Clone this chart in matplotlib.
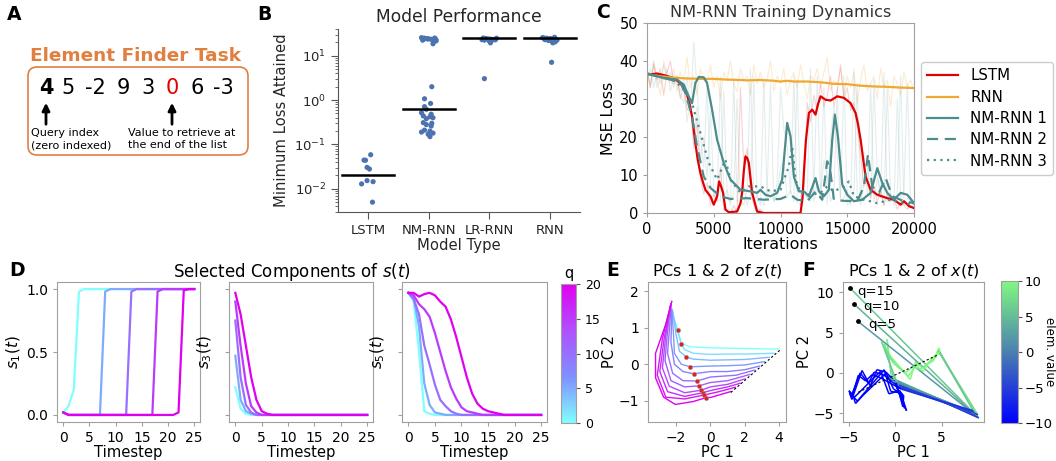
import numpy as np
import matplotlib
matplotlib.use("Agg")
import matplotlib.pyplot as plt
from matplotlib.patches import FancyBboxPatch
from matplotlib.colors import LinearSegmentedColormap, Normalize
from matplotlib.collections import LineCollection
from matplotlib.cm import ScalarMappable
from matplotlib.ticker import LogLocator, NullFormatter

plt.rcParams['font.family'] = ['DejaVu Sans']
plt.rcParams['mathtext.fontset'] = 'dejavusans'

# ---------------- DATA ----------------
# Panel A
task_title = "Element Finder Task"
seq_tokens = ["4", "5", "-2", "9", "3", "0", "6", "-3"]
query_token = 0
target_token = 5
query_note = "Query index\n(zero indexed)"
target_note = "Value to retrieve at\nthe end of the list"

# Panel B
models = ["LSTM", "NM-RNN", "LR-RNN", "RNN"]
lstm_min = [0.0586, 0.0444, 0.044, 0.0304, 0.0279, 0.0153, 0.0145, 0.0129, 0.005]
lstm_jit = [0.04, -0.07, -0.045, -0.02, 0.02, -0.02, 0.08, -0.11, 0.07]
nm_min = [25.5, 24.8, 24.2, 23.9, 23.5, 23.1, 22.8, 22.4, 25.0, 24.0, 23.2, 22.0, 21.5, 18.6, 24.6,
          2.0, 1.07, 0.84, 0.71, 0.62, 0.52, 0.48, 0.44, 0.42, 0.38, 0.40, 0.31, 0.28, 0.26,
          0.21, 0.20, 0.19, 0.18, 0.17, 0.15, 0.30]
nm_jit = [-0.12, -0.08, -0.04, 0.0, 0.04, 0.08, 0.12, -0.1, 0.1, -0.02, 0.06, 0.1, 0.12, 0.07, -0.06,
          0.05, -0.07, 0.03, -0.07, -0.04, -0.12, 0.04, -0.09, 0.02, -0.04, 0.07, -0.09, -0.04, 0.04,
          -0.07, 0.02, -0.12, 0.07, -0.01, 0.02, 0.05]
lr_min = [25.0, 24.5, 24.0, 23.6, 23.2, 22.8, 22.4, 22.0, 21.5, 24.8, 23.0, 19.5, 3.04]
lr_jit = [-0.1, -0.06, -0.02, 0.02, 0.06, 0.1, -0.08, 0.04, 0.0, 0.12, -0.12, 0.02, -0.08]
rnn_min = [26.0, 25.2, 24.8, 24.3, 23.9, 23.5, 23.0, 22.5, 22.0, 21.2, 20.5, 25.5, 24.0, 19.5, 7.1]
rnn_jit = [0.08, -0.1, -0.05, 0.0, 0.05, 0.1, -0.08, 0.12, -0.02, 0.04, 0.09, -0.12, 0.02, 0.05, 0.03]
medians = [0.0209, 0.64, 24.5, 24.5]

# Panel C (smoothed curves)
lstm_it = [0, 750, 1250, 2000, 2500, 2800, 3000, 3200, 3375, 3625, 3800, 4000, 4200, 4375, 4750,
           5000, 5250, 5400, 5550, 5700, 5875, 6125, 6750, 7000, 7125, 7250, 7375, 7500, 7625,
           7875, 8250, 8750, 11500, 11650, 11750, 11900, 12125, 12375, 12625, 12800, 13000, 13375,
           13750, 14250, 14750, 15250, 15625, 15800, 16000, 16200, 16375, 16750, 17250, 18000,
           18500, 19000, 19250, 19625, 20000]
lstm_loss = [36.4, 36.7, 36.3, 35.5, 34.2, 32.8, 31.1, 28.5, 25.4, 18.4, 14.0, 10.5, 8.0, 6.1, 4.4,
             2.2, 4.4, 8.3, 7.0, 5.3, 0.9, 0.2, 0.4, 2.5, 5.3, 11.0, 14.9, 14.5, 13.2,
             5.3, 0.4, 0.0, 0.0, 4.0, 10.5, 19.0, 26.3, 27.2, 25.9, 28.5, 30.7, 29.8,
             29.6, 30.7, 30.3, 28.9, 26.3, 23.5, 19.3, 14.0, 9.6, 6.1, 4.8, 3.9,
             3.5, 2.2, 3.1, 1.8, 1.3]
rnn_it = [0, 1000, 2000, 3000, 4000, 5000, 6000, 7000, 7500, 8500, 9500, 10000, 10500, 11000,
          12000, 13000, 14000, 15000, 16000, 17000, 18000, 19000, 20000]
rnn_loss = [36.5, 36.0, 35.6, 35.4, 35.3, 35.3, 35.1, 35.0, 34.9, 35.0, 34.8, 34.6, 34.8, 34.6,
            34.6, 34.4, 34.0, 33.9, 33.5, 33.3, 33.2, 33.0, 32.9]
nm1_it = [0, 1250, 2250, 2750, 3125, 3375, 3625, 3875, 4250, 4500, 4875, 5250, 5750, 6250, 7000,
          7750, 8250, 8500, 8875, 9250, 9750, 10125, 10500, 10750, 11000, 11375, 11750, 12125,
          12625, 12875, 13250, 13625, 13875, 14075, 14300, 14625, 15000, 15500, 16125, 16750,
          17250, 17625, 18000, 18500, 19000, 19500, 20000]
nm1_loss = [36.7, 35.5, 35.1, 33.8, 30.7, 28.9, 34.2, 35.8, 35.7, 34.2, 27.2, 19.3, 13.2, 8.8, 6.1,
            5.7, 5.3, 6.1, 4.8, 4.4, 5.3, 8.8, 23.7, 20.2, 9.6, 5.7, 5.7, 4.4,
            9.2, 5.7, 4.4, 6.1, 19.3, 25.9, 20.2, 7.5, 4.8, 3.1, 3.5, 5.3,
            11.8, 7.9, 5.3, 3.5, 5.3, 4.8, 2.6]
nm2_it = [0, 1750, 2500, 2875, 3375, 3750, 4250, 4750, 5500, 6250, 7500, 8750, 10000, 10750, 11250,
          12000, 12625, 13125, 13500, 13750, 14000, 14750, 15750, 16250, 16550, 16875, 17375,
          17875, 18375, 19250, 20000]
nm2_loss = [36.7, 35.1, 34.2, 31.6, 25.4, 17.5, 9.6, 6.6, 4.4, 3.7, 3.9, 3.5, 3.7, 4.8, 3.5,
            3.1, 5.7, 3.5, 13.6, 10.5, 3.5, 3.2, 3.1, 7.0, 15.4, 7.0, 5.3,
            9.2, 4.4, 3.1, 2.6]
nm3_it = [0, 2000, 2750, 3375, 4000, 4625, 5250, 5875, 6250, 7000, 7625, 8500, 9250, 10000, 10625,
          10875, 11125, 11500, 12250, 13000, 13500, 14000, 14750, 15125, 15500, 16250, 17250,
          18250, 19250, 20000]
nm3_loss = [36.7, 35.1, 32.5, 28.9, 21.1, 13.2, 8.8, 14.0, 8.8, 5.3, 7.0, 7.0, 5.7, 6.1, 12.3,
            17.5, 8.8, 5.3, 4.8, 5.3, 7.0, 5.7, 7.0, 8.3, 4.4, 3.5, 2.6,
            3.5, 2.6, 2.2]
# Panel C (raw, every 250 iterations)
lstm_raw = [38, 33, 40, 35, 38, 31, 37, 40, 34, 36, 30, 34, 27, 29, 17, 24, 9, 5, 8, 2, 5, 3, 12, 1,
            0.5, 0, 2, 0, 33, 12, 17, 6, 2, 0, 1, 0,
            0, 0, 0, 0, 0, 0, 0, 0, 0, 0, 0,
            8, 29, 24, 31, 27, 34, 28, 31, 36, 28, 32, 39, 30, 33, 27, 29, 23, 15, 7, 9, 4, 7, 3, 6,
            2, 5, 3, 4, 1, 3, 2, 1, 2, 1]
rnn_raw = [37, 33, 39, 35, 31, 40, 36, 34, 38,
           32, 37, 35, 41, 33, 36, 31, 38, 35,
           34, 39, 33, 36, 30, 37, 35, 40, 34,
           32, 38, 35, 36, 31, 39, 34, 37, 33,
           35, 40, 32, 36, 34, 38, 31, 35, 37,
           33, 39, 34, 30, 36, 35, 38, 33, 37,
           41, 32, 35, 34, 38, 31, 36, 33, 37,
           29, 35, 39, 32, 34, 36, 30, 38, 33,
           35, 28, 36, 34, 31, 37, 33, 35, 32]
nm_raw_a = [37, 34, 39, 33, 36, 35, 38, 32, 36,
            34, 31, 29, 36, 26, 45, 33, 20,
            12, 34, 8, 5, 3, 36, 4, 6,
            3, 5, 30, 4, 2, 6, 38, 3,
            5, 2, 35, 4, 6, 3, 8, 33,
            22, 18, 5, 36, 3, 2, 6, 4,
            38, 3, 8, 4, 33, 2, 20, 28,
            15, 4, 36, 2, 3, 5, 34, 2,
            8, 14, 3, 35, 10, 4, 37, 3,
            5, 2, 30, 4, 6, 34, 3, 2]
nm_raw_b = [35, 38, 33, 37, 34, 39, 35, 37, 33,
            36, 32, 35, 24, 30, 18, 28, 14,
            20, 9, 27, 6, 4, 3, 32, 5,
            2, 35, 3, 4, 7, 2, 5, 36,
            3, 4, 2, 6, 34, 3, 5, 12,
            14, 4, 6, 3, 35, 2, 5, 4,
            3, 7, 36, 4, 14, 10, 3, 5,
            33, 3, 4, 6, 2, 38, 4, 3,
            16, 5, 34, 3, 9, 6, 2, 33,
            4, 3, 5, 36, 2, 4, 3, 2]

# Panel D
timesteps = list(range(26))
q_values = [0, 5, 10, 15, 20]
s1 = [
    [0.02, 0.07, 0.20, 0.98] + [1.0] * 22,
    [0.02] + [0.0] * 7 + [0.98] + [1.0] * 17,
    [0.02] + [0.0] * 12 + [0.98] + [1.0] * 12,
    [0.02] + [0.0] * 17 + [0.98] + [1.0] * 7,
    [0.02] + [0.0] * 21 + [0.02, 0.99, 1.0, 1.0],
]
s3 = [
    [0.22, 0.05, 0.01] + [0.0] * 23,
    [0.47, 0.12, 0.03, 0.01] + [0.0] * 22,
    [0.75, 0.30, 0.08, 0.02] + [0.0] * 22,
    [0.90, 0.55, 0.25, 0.07, 0.02] + [0.0] * 21,
    [0.97, 0.80, 0.55, 0.30, 0.12, 0.03, 0.01] + [0.0] * 19,
]
s5 = [
    [0.97, 0.90, 0.50, 0.03, 0.01] + [0.0] * 21,
    [0.97, 0.93, 0.70, 0.25, 0.08, 0.02, 0.01] + [0.0] * 19,
    [0.97, 0.92, 0.80, 0.55, 0.40, 0.24, 0.12, 0.07, 0.03, 0.01] + [0.0] * 16,
    [0.97, 0.95, 0.88, 0.84, 0.78, 0.65, 0.50, 0.35, 0.22, 0.13, 0.06, 0.03, 0.02, 0.01] + [0.0] * 12,
    [0.97, 0.97, 0.94, 0.96, 0.97, 0.95, 0.90, 0.86, 0.76, 0.62, 0.46, 0.30, 0.17, 0.09, 0.05,
     0.03, 0.02, 0.01] + [0.0] * 8,
]

# Panel E (PC1, PC2 of z(t)), q = 0, 2, ..., 20
e_q = [0, 2, 4, 6, 8, 10, 12, 14, 16, 18, 20]
e_x = [
    [4.00, 3.0, 2.0, 1.0, 0.0, -1.2, -1.7, -1.89, -2.05, -2.2],
    [3.72, 2.0, 1.0, 0.0, -1.0, -1.5, -1.70, -1.95, -2.2],
    [3.43, 2.0, 1.0, 0.0, -1.0, -1.40, -1.8, -2.0, -2.2],
    [3.15, 2.0, 1.0, 0.0, -1.17, -1.7, -2.1, -2.15, -2.25],
    [2.87, 2.0, 1.0, 0.0, -0.97, -1.6, -2.1, -2.3, -2.25],
    [2.58, 1.5, 0.0, -0.78, -1.6, -2.2, -2.5, -2.4, -2.3],
    [2.30, 1.0, 0.0, -0.66, -1.5, -2.3, -2.65, -2.5, -2.35],
    [2.02, 1.0, 0.0, -0.53, -1.5, -2.4, -2.8, -2.6, -2.3],
    [1.74, 1.0, 0.0, -0.45, -1.5, -2.5, -2.95, -2.7, -2.3],
    [1.45, 0.5, -0.35, -1.5, -2.6, -3.1, -2.8, -2.3],
    [1.17, 0.0, -0.23, -1.0, -2.05, -2.73, -3.2, -3.2, -2.6, -2.25],
]
e_y = [
    [0.42, 0.42, 0.43, 0.44, 0.45, 0.48, 0.58, 0.94, 1.15, 1.35],
    [0.30, 0.28, 0.28, 0.27, 0.30, 0.40, 0.56, 0.95, 1.40],
    [0.19, 0.13, 0.12, 0.11, 0.14, 0.20, 0.35, 0.80, 1.45],
    [0.07, -0.02, -0.04, -0.05, -0.07, 0.0, 0.3, 0.8, 1.5],
    [-0.05, -0.15, -0.20, -0.20, -0.26, -0.2, 0.0, 0.6, 1.5],
    [-0.16, -0.30, -0.35, -0.46, -0.45, -0.25, 0.3, 0.9, 1.55],
    [-0.28, -0.45, -0.50, -0.59, -0.62, -0.45, 0.1, 0.9, 1.6],
    [-0.40, -0.55, -0.62, -0.71, -0.78, -0.6, -0.1, 0.8, 1.6],
    [-0.52, -0.62, -0.72, -0.78, -0.88, -0.75, -0.2, 0.7, 1.65],
    [-0.63, -0.75, -0.84, -0.95, -0.9, -0.3, 0.7, 1.65],
    [-0.75, -0.91, -0.91, -1.02, -1.10, -0.90, -0.37, 0.3, 1.1, 1.72],
]
e_dot_x = [-1.89, -1.70, -1.40, -1.17, -0.97, -0.78, -0.66, -0.53, -0.45, -0.35, -0.23]
e_dot_y = [0.94, 0.56, 0.20, -0.07, -0.26, -0.46, -0.59, -0.71, -0.78, -0.84, -0.91]
e_line_x = [4.04, 1.17]
e_line_y = [0.38, -0.78]

# Panel F (PC1, PC2 of x(t))
f_labels = ["q=15", "q=10", "q=5"]
f_x = [
    [-4.85, 9.0, -0.9, 8.8, -0.4, -0.9, -0.7, 1.6, 2.2, 2.6, 3.3, 4.1, 4.7, 4.9, 8.9, 0.2, -1.0,
     -2.0, -2.7, -3.6, -4.7, -5.0, -4.4, -1.6, -0.7, 0.5, 1.2, -0.3],
    [-4.5, 8.9, -0.6, 8.7, 0.0, -1.2, -0.5, 1.4, 2.4, 2.9, 3.6, 4.4, 4.6, 8.6, 0.4, -1.3, -2.3,
     -2.9, -3.8, -4.8, -4.9, -4.1, -1.2, -0.5, 0.7, 1.0, -0.1],
    [-4.07, 8.7, -0.3, 8.5, 0.3, -1.5, -0.2, 1.0, 2.0, 3.0, 3.9, 4.8, 8.4, 0.6, -1.6, -2.5, -3.2,
     -4.0, -4.6, -4.3, -3.5, -1.0, -0.2, 0.9, 0.8, 0.1],
]
f_y = [
    [10.5, -5.6, -0.4, -5.3, -1.0, 4.2, 2.3, -0.8, 1.5, 0.4, 1.0, 1.5, 3.1, 2.3, -5.2, -1.4, 0.1,
     0.4, -1.6, 0.3, -3.3, -2.2, -3.0, 0.2, -2.6, -2.2, -4.7, -0.6],
    [8.6, -5.5, -0.7, -5.1, -1.3, 3.6, 1.8, -0.4, 1.2, 0.6, 1.3, 2.0, 2.8, -5.0, -1.8, -0.2, 0.1,
     -1.3, 0.0, -3.0, -2.5, -3.5, 0.4, -2.3, -2.5, -4.4, -0.9],
    [6.44, -5.3, -1.0, -4.9, -1.6, 3.9, 1.2, 0.0, 0.8, 0.2, 1.8, 2.6, -4.7, -2.0, -0.6, -0.2, -1.0,
     -0.3, -2.7, -3.8, -2.8, 0.0, -2.0, -2.8, -4.2, -1.2],
]
f_val = [
    [6, -6, 4, -4, 8, 10, 10, 10, 10, 10, 10, 10, 10, 8, -8] + [-10] * 12,
    [4, -5, 3, -6, 7, 9, 10, 10, 10, 9, 10, 10, 7, -7] + [-10] * 12,
    [2, -4, 2, -5, 6, 8, 9, 10, 9, 10, 10, 6, -6] + [-10] * 12,
]
f_line_x = [-4.0, 4.7]
f_line_y = [-2.4, 2.3]

# ---------------- STYLE ----------------
W, H = 1056, 461
fig = plt.figure(figsize=(W / 100, H / 100), dpi=100)

def ax_px(x0, y0, x1, y1):
    return fig.add_axes([x0 / W, 1 - y1 / H, (x1 - x0) / W, (y1 - y0) / H])

def grey_box(ax, c='#a0a0a0'):
    for s in ax.spines.values():
        s.set_color(c)
    ax.tick_params(color=c)

cmap_q = LinearSegmentedColormap.from_list('q', ['#80ffff', '#7f8fff', '#b050ff', '#e000f0'])
cmap_v = LinearSegmentedColormap.from_list('v', ['#0000ff', '#4a80b0', '#80f880'])
RED = '#e00000'
ORANGE = '#f0a830'
TEAL = '#4c8c8c'
ORANGE_T = '#e08040'

# ---------------- A ----------------
axA = ax_px(0, 0, 260, 170)
axA.set_xlim(0, 260)
axA.set_ylim(170, 0)
axA.axis('off')
axA.text(135, 56, task_title, ha='center', va='center', fontsize=13.3, fontweight='bold',
         color=ORANGE_T)
axA.add_patch(FancyBboxPatch((28, 67), 220, 88, boxstyle='round,pad=0,rounding_size=9',
                             ec=ORANGE_T, fc='none', lw=1.2))
tok_px = [46, 68, 95, 123, 148, 172, 197, 223]
for i, tok in enumerate(seq_tokens):
    axA.text(tok_px[i], 88, tok, ha='center', va='center', fontsize=15,
             fontweight='bold' if i == query_token else 'normal',
             color=RED if i == target_token else 'black')
for i in (query_token, target_token):
    axA.annotate('', xy=(tok_px[i], 100), xytext=(tok_px[i], 127),
                 arrowprops=dict(arrowstyle='-|>', color='black', lw=2, mutation_scale=11))
axA.text(31, 139, query_note, ha='left', va='center', fontsize=8, linespacing=1.25)
axA.text(128, 139, target_note, ha='left', va='center', fontsize=8, linespacing=1.25)

# ---------------- B ----------------
axB = ax_px(338, 29, 580, 212)
dark = '#262626'
pts = [(lstm_min, lstm_jit), (nm_min, nm_jit), (lr_min, lr_jit), (rnn_min, rnn_jit)]
for i, (vals, jit) in enumerate(pts):
    axB.scatter(np.array(jit) + i, vals, s=14, color='#4c72b0', edgecolor='none', zorder=3)
    axB.plot([i - 0.43, i + 0.43], [medians[i], medians[i]], color='black', lw=1.8, zorder=4)
axB.set_yscale('log')
axB.set_ylim(3e-3, 40)
axB.set_xlim(-0.5, 3.5)
axB.set_xticks(range(4))
axB.set_xticklabels(models)
axB.yaxis.set_major_locator(LogLocator(base=10, numticks=10))
axB.yaxis.set_minor_locator(LogLocator(base=10, subs=np.arange(2, 10), numticks=10))
axB.yaxis.set_minor_formatter(NullFormatter())
for s in ['top', 'right']:
    axB.spines[s].set_visible(False)
for s in ['left', 'bottom']:
    axB.spines[s].set_color('#555555')
axB.tick_params(axis='both', which='major', labelsize=9.5, colors=dark, length=5)
axB.tick_params(axis='y', which='minor', length=2.5, color='#555555')
axB.tick_params(axis='both', color='#555555')
axB.set_title('Model Performance', fontsize=12.3, color=dark, pad=5)
axB.set_ylabel('Minimum Loss Attained', fontsize=10.6, color=dark)
axB.set_xlabel('Model Type', fontsize=10.6, color=dark, labelpad=1)

# ---------------- C ----------------
axC = ax_px(647, 23, 914, 213)
raw_it_l = np.linspace(0, 20000, len(lstm_raw))
raw_it_r = np.linspace(0, 20000, len(rnn_raw))
raw_it_a = np.linspace(0, 20000, len(nm_raw_a))
raw_it_b = np.linspace(0, 20000, len(nm_raw_b))
axC.plot(raw_it_r, rnn_raw, color=ORANGE, alpha=0.22, lw=0.8)
axC.plot(raw_it_l, lstm_raw, color=RED, alpha=0.18, lw=0.8)
axC.plot(raw_it_a, nm_raw_a, color=TEAL, alpha=0.15, lw=0.8)
axC.plot(raw_it_b, nm_raw_b, color=TEAL, alpha=0.15, lw=0.8)
axC.plot(lstm_it, lstm_loss, color=RED, lw=1.6, label='LSTM')
axC.plot(rnn_it, rnn_loss, color=ORANGE, lw=1.6, label='RNN')
axC.plot(nm1_it, nm1_loss, color=TEAL, lw=1.6, label='NM-RNN 1')
axC.plot(nm2_it, nm2_loss, color=TEAL, lw=1.6, ls=(0, (5, 3)), label='NM-RNN 2')
axC.plot(nm3_it, nm3_loss, color=TEAL, lw=1.6, ls=(0, (1, 2)), label='NM-RNN 3')
axC.set_xlim(0, 20000)
axC.set_ylim(0, 50)
axC.set_xticks([0, 5000, 10000, 15000, 20000])
axC.set_yticks([0, 10, 20, 30, 40, 50])
grey_box(axC)
axC.tick_params(labelsize=10.5, length=3)
axC.set_title('NM-RNN Training Dynamics', fontsize=11.6, color='#333333', pad=4)
axC.set_xlabel('Iterations', fontsize=11.4, labelpad=0)
axC.set_ylabel('MSE Loss', fontsize=11.4, labelpad=2)
leg = axC.legend(loc='center left', bbox_to_anchor=(1.025, 0.497), borderaxespad=0,
                 fontsize=10.8, handlelength=2.1, labelspacing=0.42, frameon=True)
leg.get_frame().set_edgecolor('#c0c0c0')

# ---------------- D ----------------
normq = Normalize(0, 20)
d_boxes = [(57, 282, 200, 422), (229, 282, 373, 422), (402, 282, 547, 422)]
d_data = [s1, s3, s5]
d_lab = ['$s_1(t)$', '$s_3(t)$', '$s_5(t)$']
for j, (box, series) in enumerate(zip(d_boxes, d_data)):
    ax = ax_px(*box)
    for q, ys in zip(q_values, series):
        ax.plot(timesteps, ys, color=cmap_q(normq(q)), lw=1.6)
    ax.set_xlim(-1.2, 26.1)
    ax.set_ylim(-0.056, 1.056)
    ax.set_xticks([0, 5, 10, 15, 20, 25])
    ax.set_yticks([0.0, 0.5, 1.0])
    if j > 0:
        ax.set_yticklabels([])
    grey_box(ax)
    ax.tick_params(labelsize=10, length=3)
    ax.set_xlabel('Timestep', fontsize=10.6, labelpad=0)
    ax.set_ylabel(d_lab[j], fontsize=11, labelpad=2 if j == 0 else 4)
fig.text(292 / W, 1 - 272 / H, 'Selected Components of $s(t)$', ha='center', va='center',
         fontsize=12)
caxD = ax_px(561, 284, 576, 423)
cbD = fig.colorbar(ScalarMappable(norm=normq, cmap=cmap_q), cax=caxD, ticks=[0, 5, 10, 15, 20])
cbD.outline.set_edgecolor('#a0a0a0')
caxD.tick_params(labelsize=9, length=3, color='#555555')
caxD.set_title('q', fontsize=10.5, pad=4)

# ---------------- E ----------------
axE = ax_px(648, 282, 786, 422)
for q, xs, ys in zip(e_q, e_x, e_y):
    axE.plot(xs, ys, color=cmap_q(normq(q)), lw=1.0)
axE.plot(e_line_x, e_line_y, color='black', lw=0.8, ls=(0, (2, 2)))
axE.scatter(e_dot_x, e_dot_y, s=10, color='#e02020', edgecolor='#a0a0a0', lw=0.3, zorder=5)
axE.set_xlim(-3.64, 4.41)
axE.set_ylim(-1.58, 2.25)
axE.set_xticks([-2, 0, 2, 4])
axE.set_yticks([-1, 0, 1, 2])
grey_box(axE)
axE.tick_params(labelsize=10, length=3)
axE.set_title('PCs 1 & 2 of $z(t)$', fontsize=11.5, pad=5)
axE.set_xlabel('PC 1', fontsize=10.5, labelpad=0)
axE.set_ylabel('PC 2', fontsize=10.5, labelpad=1)

# ---------------- F ----------------
axF = ax_px(843, 282, 984, 422)
normv = Normalize(-10, 10)
for xs, ys, vs in zip(f_x, f_y, f_val):
    p = np.column_stack([xs, ys])
    segs = np.stack([p[:-1], p[1:]], axis=1)
    n = min(len(segs), len(vs))
    lc = LineCollection(segs[:n], colors=cmap_v(normv(np.array(vs[:n]))), lw=1.1)
    axF.add_collection(lc)
axF.plot(f_line_x, f_line_y, color='black', lw=0.8, ls=(0, (2, 2)), zorder=4)
for lab, xs, ys, dx in zip(f_labels, f_x, f_y, [0.75, 1.05, 1.15]):
    axF.scatter([xs[0]], [ys[0]], s=6, color='black', zorder=5)
    axF.text(xs[0] + dx, ys[0] - 0.4, lab, fontsize=9.5, va='center', ha='left')
axF.set_xlim(-5.65, 9.56)
axF.set_ylim(-6.1, 11.3)
axF.set_xticks([-5, 0, 5])
axF.set_yticks([-5, 0, 5, 10])
grey_box(axF)
axF.tick_params(labelsize=10, length=3)
axF.set_title('PCs 1 & 2 of $x(t)$', fontsize=11.5, pad=5)
axF.set_xlabel('PC 1', fontsize=10.5, labelpad=0)
axF.set_ylabel('PC 2', fontsize=10.5, labelpad=1)
caxF = ax_px(1001, 281, 1018, 423)
cbF = fig.colorbar(ScalarMappable(norm=normv, cmap=cmap_v), cax=caxF, ticks=[-10, -5, 0, 5, 10])
cbF.outline.set_edgecolor('#a0a0a0')
caxF.tick_params(labelsize=9.5, length=3, pad=2, color='#555555')
fig.text(1049.5 / W, 1 - 352 / H, 'elem. value', rotation=270, fontsize=8.5,
         ha='center', va='center')

# ---------------- panel letters ----------------
for lab, x, y in [('A', 14, 15), ('B', 264, 14), ('C', 603, 12), ('D', 17, 271),
                  ('E', 613, 271), ('F', 809, 271)]:
    fig.text(x / W, 1 - y / H, lab, fontsize=13.5, fontweight='bold', ha='center', va='center')

fig.savefig('out.png', dpi=100)
